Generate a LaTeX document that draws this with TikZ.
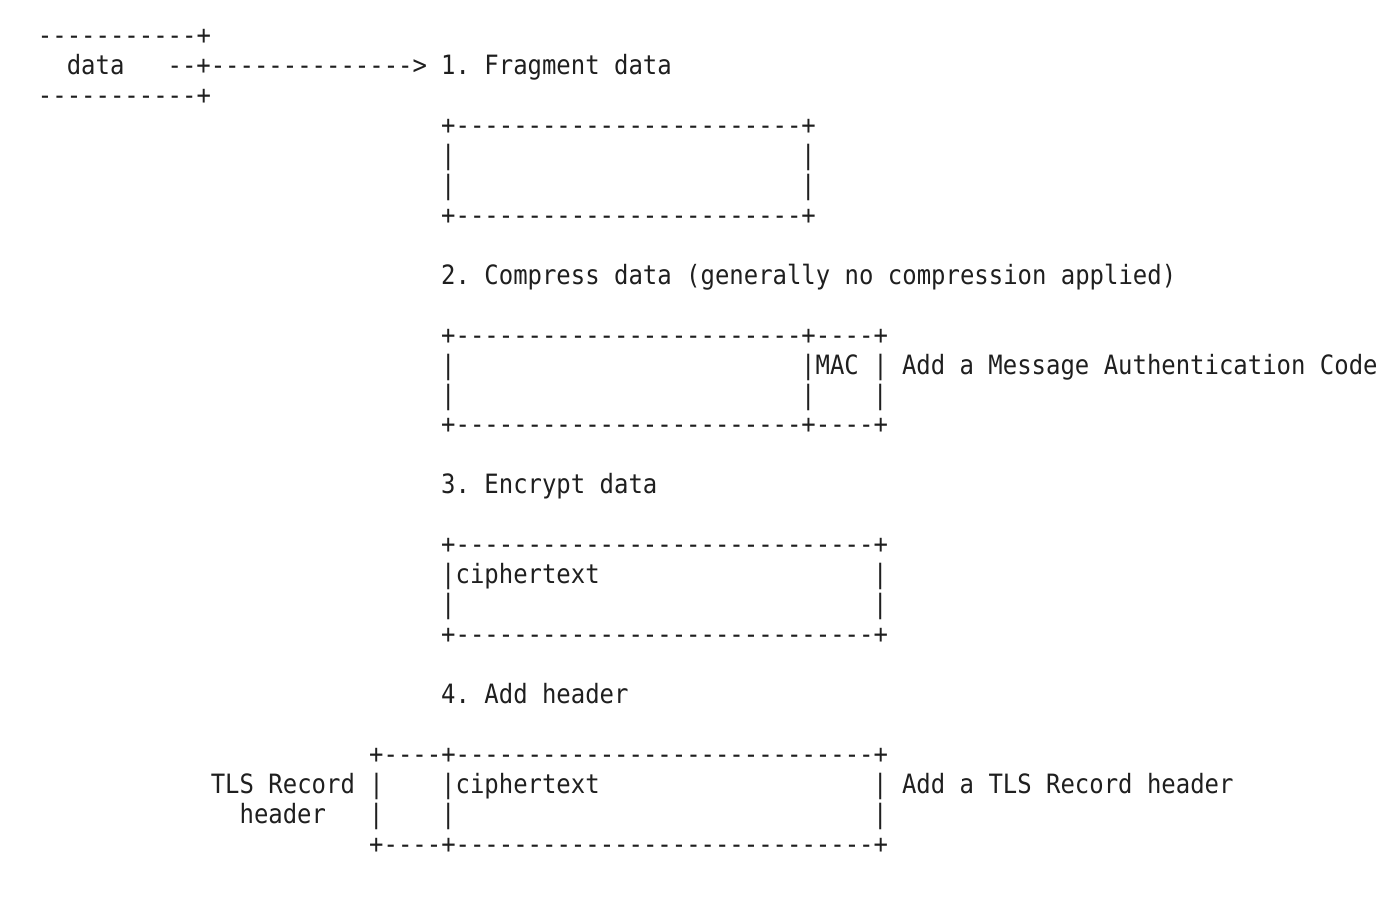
\documentclass[tikz,border=0pt]{standalone}
\usepackage{fontspec}
\setmonofont{DejaVu Sans Mono}[FakeStretch=0.9]
\usepackage{tikz}
\usepackage{xcolor}
\newcommand{\asciifont}{\ttfamily\fontsize{26.6}{30}\selectfont}

\begin{document}
\begin{tikzpicture}[
  x=14.4pt, y=-29.96pt,
  txt/.style={anchor=base west, inner sep=0pt, outer sep=0pt, font=\asciifont, text=black!88},
  bar/.style={txt}
]
\useasboundingbox (-2.6389,-1.4853) rectangle (94.5833,28.488);

% ------------------------------------------------------------
% data source
% ------------------------------------------------------------
\node[txt] (srctop) at (0,0) {-----------+};
\node[txt] (src)    at (2,1) {data};
\node[txt] (srcbot) at (0,2) {-----------+};
\node[txt] (feed)   at (9,1) {--+-------------->};

% ------------------------------------------------------------
% 1. fragment
% ------------------------------------------------------------
\node[txt] (step1)  at (28,1) {1. Fragment data};
\node[txt] (fragt)  at (28,3) {+------------------------+};
\node[bar] (fragl1) at (28,4) {|};
\node[bar] (fragr1) at (53,4) {|};
\node[bar] (fragl2) at (28,5) {|};
\node[bar] (fragr2) at (53,5) {|};
\node[txt] (fragb)  at (28,6) {+------------------------+};

% ------------------------------------------------------------
% 2. compress + MAC
% ------------------------------------------------------------
\node[txt] (step2)  at (28,8) {2. Compress data (generally no compression applied)};
\node[txt] (mact)   at (28,10) {+------------------------+----+};
\node[bar] (macl1)  at (28,11) {|};
\node[txt] (mac)    at (53,11) {|MAC |};
\node[txt] (macnote) at (60,11) {Add a Message Authentication Code};
\node[bar] (macl2)  at (28,12) {|};
\node[bar] (macm2)  at (53,12) {|};
\node[bar] (macr2)  at (58,12) {|};
\node[txt] (macb)   at (28,13) {+------------------------+----+};

% ------------------------------------------------------------
% 3. encrypt
% ------------------------------------------------------------
\node[txt] (step3)  at (28,15) {3. Encrypt data};
\node[txt] (enct)   at (28,17) {+-----------------------------+};
\node[txt] (enc)    at (28,18) {|ciphertext};
\node[bar] (encr1)  at (58,18) {|};
\node[bar] (encl2)  at (28,19) {|};
\node[bar] (encr2)  at (58,19) {|};
\node[txt] (encb)   at (28,20) {+-----------------------------+};

% ------------------------------------------------------------
% 4. header
% ------------------------------------------------------------
\node[txt] (step4)  at (28,22) {4. Add header};
\node[txt] (rect)   at (23,24) {+----+-----------------------------+};
\node[txt] (hdr1)   at (12,25) {TLS Record |};
\node[txt] (rec)    at (28,25) {|ciphertext};
\node[txt] (recnote) at (58,25) {| Add a TLS Record header};
\node[txt] (hdr2)   at (14,26) {header};
\node[bar] (recl2)  at (23,26) {|};
\node[bar] (recm2)  at (28,26) {|};
\node[bar] (recr2)  at (58,26) {|};
\node[txt] (recb)   at (23,27) {+----+-----------------------------+};

\end{tikzpicture}
\end{document}
